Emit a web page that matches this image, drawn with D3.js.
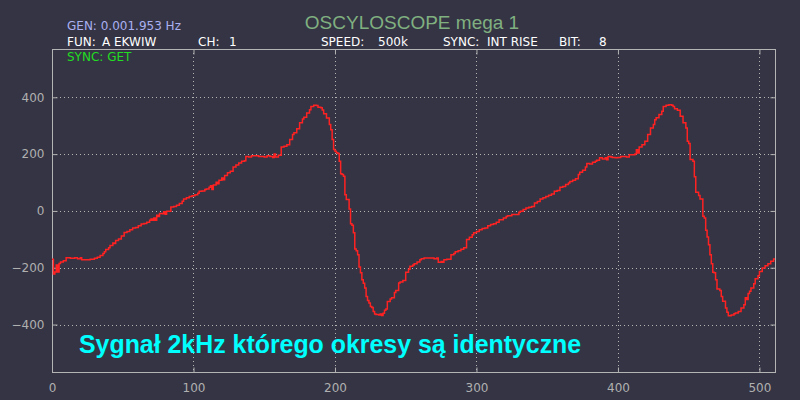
<!DOCTYPE html>
<html>
<head>
<meta charset="utf-8">
<script src="https://cdn.jsdelivr.net/npm/d3@7"></script>
<style>
  body { margin: 0; background: #343444; }
  svg { display: block; }
  .hdr { font-family: "DejaVu Sans", sans-serif; font-size: 12px; }
</style>
</head>
<body>
<svg id="scope"></svg>
<script>
// sample index / value pairs
const sampleIdx = [0,1,2,3,4,5,6,8,10,13,16,18,20,21,24,27,30,32,34,36,37,38,40,41,43,44,45,47,49,51,53,55,57,59,61,63,65,67,69,70,71,72,73,74,75,76,78,79,80,81,83,84,86,88,90,92,93,95,97,99,101,103,104,106,108,109,111,112,113,114,116,117,118,120,121,122,124,126,128,130,132,134,136,137,139,141,144,146,148,150,152,154,156,157,158,160,162,164,166,168,170,171,173,175,177,178,180,182,183,185,187,188,190,191,192,194,196,197,198,199,200,201,202,203,204,205,206,207,208,210,211,212,213,214,215,216,217,218,219,220,221,222,223,224,225,226,227,228,229,231,232,233,234,235,236,237,239,240,242,243,245,246,248,250,252,253,255,256,258,260,261,263,268,270,272,273,275,276,277,279,282,284,285,287,289,291,293,295,297,298,300,302,304,306,308,310,312,314,316,319,321,322,325,328,330,331,333,335,337,339,341,343,345,347,349,351,353,355,357,359,361,363,365,366,368,370,372,373,375,377,378,380,382,384,385,387,389,391,392,393,395,396,398,400,402,404,406,408,410,412,413,414,415,417,419,421,423,425,426,427,429,431,432,434,436,438,439,440,442,444,446,448,449,450,451,453,454,455,457,458,460,461,462,463,464,465,466,467,468,469,470,472,473,474,476,477,478,480,482,483,485,487,489,490,491,492,493,494,496,497,499,500,502,504,506,508,510,511];
const sampleVal = [-170,-222,-215,-190,-215,-185,-180,-175,-165,-167,-165,-168,-165,-172,-172,-170,-167,-163,-157,-150,-144,-136,-130,-122,-113,-115,-104,-99,-88,-76,-72,-66,-60,-58,-52,-46,-44,-40,-33,-28,-33,-25,-33,-15,-20,-9,-10,-3,-12,-1,-1,14,16,20,26,34,42,46,51,53,57,62,69,70,75,77,83,89,75,91,101,96,108,116,110,125,134,140,155,162,169,175,177,192,190,194,194,192,192,190,194,192,188,200,190,196,225,228,233,251,269,275,289,310,324,330,345,356,368,372,371,365,363,355,342,327,304,286,251,216,210,205,202,175,131,128,122,57,40,7,-45,-50,-77,-134,-140,-154,-197,-218,-242,-255,-271,-301,-315,-324,-336,-340,-354,-363,-365,-366,-363,-368,-360,-350,-345,-319,-310,-306,-287,-280,-254,-250,-245,-216,-205,-195,-190,-186,-180,-172,-168,-166,-166,-168,-166,-181,-178,-181,-172,-170,-154,-150,-144,-140,-135,-130,-101,-93,-84,-77,-72,-66,-62,-60,-52,-48,-45,-40,-31,-25,-20,-17,-13,-13,-5,-1,5,10,13,16,28,33,42,46,51,55,60,69,72,83,86,93,98,104,108,113,128,136,143,155,167,165,171,175,178,187,183,187,180,192,190,188,187,188,192,192,190,198,198,200,215,204,225,233,245,269,292,304,321,328,339,351,368,372,374,372,368,360,354,333,310,292,245,237,181,175,120,66,54,42,-19,-25,-68,-92,-119,-154,-186,-216,-218,-242,-275,-280,-301,-318,-342,-357,-369,-366,-362,-359,-354,-342,-330,-306,-312,-291,-283,-271,-256,-239,-228,-213,-201,-193,-186,-177,-169,-169];

const xTicks = [0, 100, 200, 300, 400, 500];
const yTicks = [-400, -200, 0, 200, 400];

const headerItems = [
  {text: "FUN:", x: 67}, {text: "A EKWIW", x: 102},
  {text: "CH:", x: 198}, {text: "1", x: 229},
  {text: "SPEED:", x: 321}, {text: "500k", x: 378},
  {text: "SYNC:", x: 443}, {text: "INT RISE", x: 487},
  {text: "BIT:", x: 559}, {text: "8", x: 599}
];

const width = 800, height = 400;
const plot = {left: 52, right: 775, top: 49, bottom: 372};

const svg = d3.select("#scope")
  .attr("width", width)
  .attr("height", height);

svg.append("rect")
  .attr("width", width)
  .attr("height", height)
  .attr("fill", "#343444");

const x = d3.scaleLinear().domain([0, 511]).range([plot.left, plot.right]);
const y = d3.scaleLinear().domain([-567, 570]).range([plot.bottom, plot.top]);

// dotted grid
const grid = svg.append("g")
  .attr("stroke", "#b4b4b4")
  .attr("stroke-width", 1)
  .attr("stroke-dasharray", "1,3");

grid.selectAll(".gx")
  .data(xTicks.filter(d => d > 0))
  .join("line")
  .attr("x1", d => Math.round(x(d)) + 0.5)
  .attr("x2", d => Math.round(x(d)) + 0.5)
  .attr("y1", plot.top)
  .attr("y2", plot.bottom);

grid.selectAll(".gy")
  .data(yTicks)
  .join("line")
  .attr("y1", d => Math.round(y(d)) + 0.5)
  .attr("y2", d => Math.round(y(d)) + 0.5)
  .attr("x1", plot.left)
  .attr("x2", plot.right);

// axes with inward ticks, mirrored on every side
function styleAxis(g) {
  g.select(".domain").remove();
  g.selectAll("line").attr("stroke", "#b4b4b4");
  g.selectAll("text")
    .attr("fill", "#b0b0b0")
    .attr("font-family", "DejaVu Sans, sans-serif")
    .attr("font-size", 12);
}

svg.append("g")
  .attr("transform", `translate(${plot.left + 0.5},0)`)
  .call(d3.axisLeft(y).tickValues(yTicks).tickSize(-5).tickPadding(8))
  .call(styleAxis);

svg.append("g")
  .attr("transform", `translate(${plot.right + 0.5},0)`)
  .call(d3.axisRight(y).tickValues(yTicks).tickSize(-5).tickFormat(""))
  .call(styleAxis);

svg.append("g")
  .attr("transform", `translate(0,${plot.bottom + 0.5})`)
  .call(d3.axisBottom(x).tickValues(xTicks).tickSize(-5).tickPadding(11))
  .call(styleAxis);

svg.append("g")
  .attr("transform", `translate(0,${plot.top + 0.5})`)
  .call(d3.axisTop(x).tickValues(xTicks).tickSize(-5).tickFormat(""))
  .call(styleAxis);

// frame
svg.append("rect")
  .attr("x", plot.left + 0.5)
  .attr("y", plot.top + 0.5)
  .attr("width", plot.right - plot.left)
  .attr("height", plot.bottom - plot.top)
  .attr("fill", "none")
  .attr("stroke", "#b4b4b4")
  .attr("stroke-width", 1);

// trace
const trace = sampleIdx.map((d, i) => [d, sampleVal[i]]);

const line = d3.line()
  .x(d => x(d[0]))
  .y(d => y(d[1]))
  .curve(d3.curveStepAfter);

svg.append("path")
  .datum(trace)
  .attr("d", line)
  .attr("fill", "none")
  .attr("stroke", "#ff2222")
  .attr("stroke-width", 1.5);

// header
svg.append("text")
  .attr("x", 412)
  .attr("y", 29)
  .attr("text-anchor", "middle")
  .attr("font-family", "Liberation Sans, Arial, sans-serif")
  .attr("font-size", 19)
  .attr("fill", "#80b080")
  .text("OSCYLOSCOPE mega 1");

svg.append("text")
  .attr("class", "hdr")
  .attr("x", 67)
  .attr("y", 30)
  .attr("fill", "#aab0f0")
  .text("GEN: 0.001.953 Hz");

svg.selectAll(".hitem")
  .data(headerItems)
  .join("text")
  .attr("class", "hdr hitem")
  .attr("x", d => d.x)
  .attr("y", 46)
  .attr("fill", "#ffffff")
  .text(d => d.text);

svg.append("text")
  .attr("class", "hdr")
  .attr("x", 67)
  .attr("y", 61)
  .attr("fill", "#22dd22")
  .text("SYNC: GET");

svg.append("text")
  .attr("x", 79)
  .attr("y", 353)
  .attr("font-family", "Liberation Sans, Arial, sans-serif")
  .attr("font-weight", "bold")
  .attr("font-size", 24.9)
  .attr("fill", "#00ffff")
  .text("Sygnał 2kHz którego okresy są identyczne");
</script>
</body>
</html>
